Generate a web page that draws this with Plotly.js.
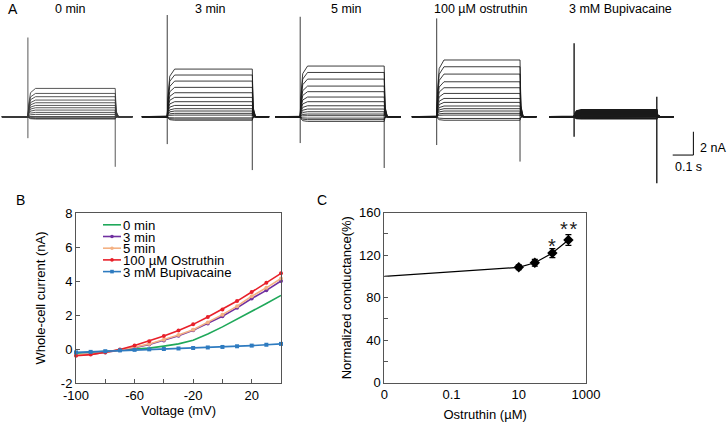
<!DOCTYPE html>
<html><head><meta charset="utf-8">
<script src="https://cdn.plot.ly/plotly-3.0.1.min.js"></script>
<style>html,body{margin:0;padding:0;background:#fff}#chart{width:727px;height:424px}</style>
</head><body><div id="chart"></div>
<script>
// ---------- Panel A: whole-cell current traces (steady-state level of each sweep, nA) ----------
const aTitles = ['0 min', '3 min', '5 min', '100 µM ostruthin', '3 mM Bupivacaine'];
const aSteps0min   = [-0.2,-0.15,-0.1,-0.05,0.05,0.2,0.37,0.57,0.77,0.97,1.2,1.43,1.72,2.0,2.43];
const aSteps3min   = [-0.3,-0.2,-0.1,0.14,0.29,0.49,0.69,0.97,1.29,1.66,2.06,2.52,3.06,3.58,4.09];
const aSteps5min   = [-0.4,-0.25,-0.12,0.09,0.23,0.43,0.66,0.94,1.29,1.69,2.15,2.63,3.23,3.8,4.35];
const aSteps100uM  = [-0.3,-0.15,0.14,0.29,0.49,0.69,0.92,1.23,1.57,2.0,2.49,3.0,3.66,4.29,4.87];
const aStepsBupi   = [-0.18,-0.12,-0.07,-0.01,0.05,0.1,0.16,0.21,0.27,0.32,0.38,0.44,0.49,0.55,0.6];
// capacitive transients at pulse onset / offset: [lowest, highest] (nA)
const aSpikeOn  = [[-1.84,6.8],[-2.35,8.73],[-2.26,8.58],[-2.43,8.44],[-1.72,6.3]];
const aSpikeOff = [[-4.3,0.57],[-4.58,0.4],[-4.4,0.4],[-3.85,0.4],[-5.72,1.72]];
const tOn = 0.12, tOff = 0.52, tEnd = 0.6;     // pulse protocol (s)
const scaleT = 0.1, scaleI = 2;                // scale bar: 0.1 s, 2 nA

// ---------- Panel B: I-V relationship ----------
const voltages = [-100,-90,-80,-70,-60,-50,-40,-30,-20,-10,0,10,20,30,40];
const iv0min  = [-0.25,-0.2,-0.15,-0.07,0.0,0.05,0.17,0.3,0.52,0.88,1.3,1.75,2.18,2.68,3.15];
const iv3min  = [-0.35,-0.3,-0.2,-0.08,0.08,0.26,0.5,0.78,1.1,1.5,1.93,2.42,2.97,3.45,4.0];
const iv5min  = [-0.35,-0.3,-0.2,-0.07,0.1,0.3,0.55,0.83,1.13,1.56,2.02,2.52,3.1,3.6,4.15];
const iv100uM = [-0.4,-0.33,-0.19,-0.03,0.2,0.46,0.76,1.09,1.45,1.88,2.33,2.82,3.35,3.9,4.45];
const ivBupi  = [-0.2,-0.17,-0.13,-0.08,-0.05,-0.02,0.0,0.03,0.06,0.09,0.12,0.16,0.2,0.25,0.3];
const ivNames = ['0 min','3 min','5 min','100 µM Ostruthin','3 mM Bupivacaine'];
const ivColors = ['#1fa85a','#7030a0','#f4b183','#e8202a','#2e7bc0'];
const ivSymbols = [null,'circle','circle','circle','square'];

// ---------- Panel C: concentration dependence ----------
const ctrlCond = 100;                  // control (0 µM, plotted at the "0" position)
const cConc = [10, 30, 100, 300];      // µM
const cCond = [108.6, 112.9, 122.0, 134.3];
const cErr  = [2.3, 3.1, 4.2, 5.0];
const sigConc = [100, 300];
const sigText = ['*', '*\u200A*'];

// ---------------- helpers ----------------
const W = 727, H = 424;
const px = v => v / W;
const py = v => 1 - v / H;
const FONT = 'Liberation Sans, Arial, sans-serif';

const traces = [];

// Panel A
const aSteps = [aSteps0min, aSteps3min, aSteps5min, aSteps100uM, aStepsBupi];
const aDom = [[1.7,132.7],[141.7,269.3],[275,401],[411.7,536.7],[549.3,700]];
const aRange = [[0,0.6],[0,0.6],[0,0.6],[0,0.6],[0,0.729]];
aSteps.forEach((steps, k) => {
  const xs = [], ys = [];
  steps.forEach(L => {
    xs.push(0, tOn, tOn+0.004, tOn+0.012, tOn+0.035, tOff, tOff+0.004, tOff+0.015, tEnd, null);
    ys.push(0, 0, 0.45*L, 0.85*L, L, L, 0.2*L, 0, 0, null);
  });
  xs.push(tOn, tOn, null, tOff, tOff);
  ys.push(aSpikeOn[k][0], aSpikeOn[k][1], null, aSpikeOff[k][0], aSpikeOff[k][1]);
  traces.push({
    x: xs, y: ys, type: 'scatter', mode: 'lines', connectgaps: false,
    xaxis: 'x' + (k + 3), yaxis: 'y3', hoverinfo: 'skip',
    line: {color: k === 0 ? '#3a3a3a' : '#1a1a1a', width: k === 4 ? 1.4 : 0.85}
  });
});

// Panel B
const ivSeries = [iv0min, iv3min, iv5min, iv100uM, ivBupi];
ivSeries.forEach((ys, i) => {
  traces.push({
    x: voltages, y: ys, type: 'scatter', name: ivNames[i],
    mode: ivSymbols[i] ? 'lines+markers' : 'lines', cliponaxis: false,
    xaxis: 'x', yaxis: 'y',
    line: {color: ivColors[i], width: 1.6},
    marker: {color: ivColors[i], size: 4, symbol: ivSymbols[i] || 'circle'}
  });
});

// Panel C
traces.push({
  x: [0.001].concat(cConc), y: [ctrlCond].concat(cCond), type: 'scatter', mode: 'lines',
  xaxis: 'x2', yaxis: 'y2', line: {color: '#000', width: 1.2}
});
traces.push({
  x: cConc, y: cCond, type: 'scatter', mode: 'markers', cliponaxis: false,
  xaxis: 'x2', yaxis: 'y2',
  marker: {color: '#000', size: 8, symbol: 'diamond'},
  error_y: {type: 'data', array: cErr, visible: true, color: '#000', thickness: 1.2, width: 3}
});

// ---------------- annotations / shapes ----------------
const ann = [];
const aTitleX = [70, 210.7, 346, 480, 620];
aTitles.forEach((t, k) => ann.push({
  text: t, xref: 'paper', yref: 'paper', x: px(aTitleX[k]), y: py(9.5),
  xanchor: 'center', yanchor: 'middle', showarrow: false, font: {size: 12.5, family: FONT, color: '#000'}
}));
[['A',13.3,9.5],['B',20.7,200],['C',321.7,200]].forEach(([t,x,y]) => ann.push({
  text: t, xref: 'paper', yref: 'paper', x: px(x), y: py(y), xanchor: 'center', yanchor: 'middle',
  showarrow: false, font: {size: 14, family: FONT, color: '#000'}
}));
ann.push({text: scaleI + ' nA', xref: 'paper', yref: 'paper', x: px(698), y: py(147.5),
  xanchor: 'left', yanchor: 'middle', showarrow: false, font: {size: 12.5, family: FONT}});
ann.push({text: scaleT + ' s', xref: 'paper', yref: 'paper', x: px(688), y: py(167.5),
  xanchor: 'center', yanchor: 'middle', showarrow: false, font: {size: 12.5, family: FONT}});

// significance markers
const sigY = [128.3, 144.8];
sigConc.forEach((c, i) => ann.push({
  text: sigText[i], xref: 'x2', yref: 'y2', x: Math.log10(c), y: sigY[i],
  xanchor: 'center', yanchor: 'middle', showarrow: false, font: {size: 20, family: FONT, color: '#222'}
}));

// manual legend for panel B
const shapes = [];
ivNames.forEach((n, i) => {
  const yy = 224.8 + 11.7 * i;
  shapes.push({type: 'line', xref: 'paper', yref: 'paper', x0: px(103), x1: px(121), y0: py(yy), y1: py(yy),
    line: {color: ivColors[i], width: 1.6}});
  if (ivSymbols[i]) {
    shapes.push({type: ivSymbols[i] === 'square' ? 'rect' : 'circle', xref: 'paper', yref: 'paper',
      x0: px(110.2), x1: px(113.8), y0: py(yy + 1.8), y1: py(yy - 1.8),
      fillcolor: ivColors[i], line: {width: 0}});
  }
  ann.push({text: n, xref: 'paper', yref: 'paper', x: px(120.5), y: py(yy + 0.5), xanchor: 'left', yanchor: 'middle',
    showarrow: false, font: {size: 13.2, family: FONT, color: '#000'}});
});

// scale bar (in panel A data units)
const sbX = 0.697, sbY = -3.29;
shapes.push({type: 'line', xref: 'x7', yref: 'y3', x0: sbX - scaleT, x1: sbX, y0: sbY, y1: sbY, line: {color: '#000', width: 1}});
shapes.push({type: 'line', xref: 'x7', yref: 'y3', x0: sbX, x1: sbX, y0: sbY, y1: sbY + scaleI, line: {color: '#000', width: 1}});

const axCommon = {showline: true, mirror: true, linecolor: '#555', linewidth: 1, showgrid: false, zeroline: false,
  ticks: 'inside', ticklen: 4, tickcolor: '#555', tickfont: {size: 13, family: FONT, color: '#000'}};

const layout = {
  width: W, height: H, margin: {l: 0, r: 0, t: 0, b: 0},
  paper_bgcolor: '#fff', plot_bgcolor: 'rgba(0,0,0,0)', showlegend: false,
  font: {family: FONT, size: 13, color: '#000'},
  xaxis: Object.assign({}, axCommon, {domain: [px(76), px(281)], anchor: 'y', range: [-100, 40],
    tickmode: 'array', tickvals: voltages.filter(v => v % 20 === 0),
    ticktext: voltages.filter(v => v % 20 === 0).map(v => (v + 100) % 40 === 0 ? String(v) : ''),
    title: {text: 'Voltage (mV)', font: {size: 13, family: FONT}, standoff: 4}}),
  yaxis: Object.assign({}, axCommon, {domain: [py(383), py(213)], anchor: 'x', range: [-2, 8],
    tickmode: 'array', tickvals: [-2,0,2,4,6,8], ticktext: ['-2','0','2','4','6','8'],
    title: {text: 'Whole-cell current (nA)', font: {size: 13, family: FONT}, standoff: 12}}),
  xaxis2: Object.assign({}, axCommon, {domain: [px(384.3), px(586)], anchor: 'y2', type: 'log', range: [-3, 3],
    ticks: '', tickmode: 'array', tickvals: [0.001, 0.1, 10, 1000], ticktext: ['0','0.1','10','1000'],
    title: {text: 'Ostruthin (µM)', font: {size: 13, family: FONT}, standoff: 8}}),
  yaxis2: Object.assign({}, axCommon, {domain: [py(382.7), py(212.7)], anchor: 'x2', range: [0, 160],
    tickmode: 'array', tickvals: [0,20,40,60,80,100,120,140,160],
    ticktext: ['0','','40','','80','','120','','160'],
    title: {text: 'Normalized conductance(%)', font: {size: 13, family: FONT}, standoff: 4}}),
  yaxis3: {domain: [py(190), 1], anchor: 'x3', range: [-6.29, 10.02], visible: false, fixedrange: true},
  annotations: ann, shapes: shapes
};
aDom.forEach((d, k) => {
  layout['xaxis' + (k + 3)] = {domain: [px(d[0]), px(d[1])], anchor: 'y3', range: aRange[k], visible: false, fixedrange: true};
});

Plotly.newPlot('chart', traces, layout, {displayModeBar: false, staticPlot: true});
</script></body></html>
